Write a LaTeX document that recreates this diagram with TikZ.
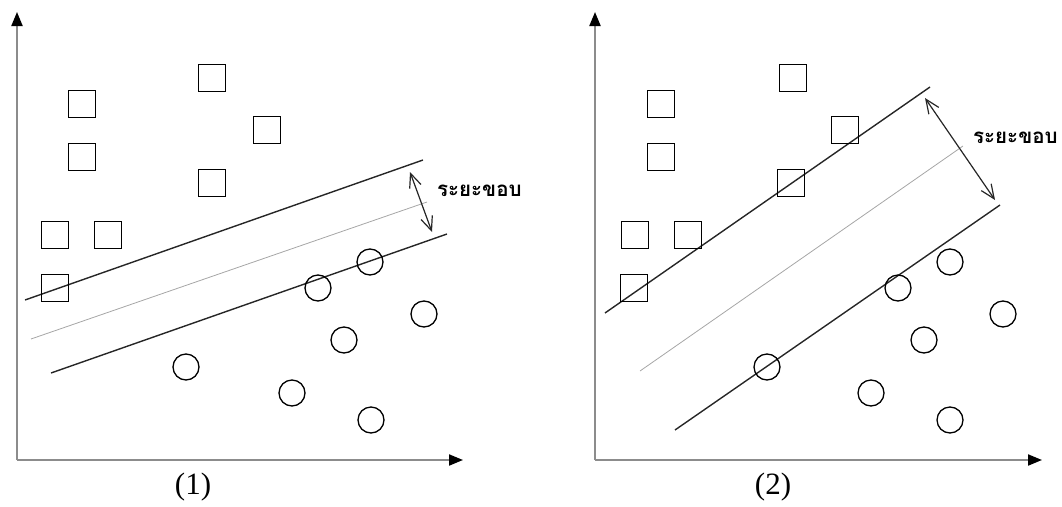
\documentclass[tikz,border=0pt]{standalone}
\usepackage{fontspec}
\setmainfont{Liberation Serif}
\newfontfamily\thaifont[Script=Thai]{Loma}
\usetikzlibrary{arrows.meta}
\begin{document}
\begin{tikzpicture}[x=1pt,y=-1pt,
  axis/.style={draw=black!45,line width=2pt,-{Triangle[length=14pt,width=11pt,color=black]}},
  sq/.style={draw=black,line width=1.5pt,minimum size=27pt,inner sep=0pt},
  circ/.style={draw=black,line width=1.3pt,circle,minimum size=26pt,inner sep=0pt},
  bound/.style={draw=black!85,line width=1.4pt},
  mid/.style={draw=black!35,line width=0.8pt},
  margin/.style={draw=black!85,line width=1.2pt,{Straight Barb[length=14pt,width=12pt]}-{Straight Barb[length=14pt,width=12pt]}},
  lbl/.style={font=\thaifont\bfseries\fontsize{20.5}{22}\selectfont,anchor=west,inner sep=0pt},
  pnum/.style={font=\fontsize{31}{34}\selectfont,inner sep=0pt}]
\useasboundingbox (0,0) rectangle (1062,506);

% ---------- panel (1) ----------
\coordinate (o1) at (17,460);
\coordinate (y1) at (17,12);
\coordinate (x1) at (463,460);
\draw[axis] (o1) -- (y1);
\draw[axis] (o1) -- (x1);

\coordinate (a1s) at (25,300);  \coordinate (a1e) at (423,160);
\coordinate (m1s) at (31,339);  \coordinate (m1e) at (427,202);
\coordinate (b1s) at (51,373);  \coordinate (b1e) at (447,234);
\draw[mid] (m1s) -- (m1e);
\draw[bound] (a1s) -- (a1e);
\draw[bound] (b1s) -- (b1e);

\foreach \n/\p in {s1/{82,104}, s2/{82,157}, s3/{212,78}, s4/{267,130},
                   s5/{212,183}, s6/{55,235}, s7/{108,235}, s8/{55,288}}
  \node[sq] (p1\n) at (\p) {};
\foreach \n/\p in {c1/{370,262}, c2/{318,288}, c3/{424,314}, c4/{344,340},
                   c5/{186,367}, c6/{292,393}, c7/{371,420}}
  \node[circ] (p1\n) at (\p) {};

\coordinate (g1a) at (410,172);
\coordinate (g1b) at (432,232);
\draw[margin] (g1a) -- (g1b);
\node[lbl] (t1) at (437,191) {ระยะขอบ};
\node[pnum] (n1) at (193,487) {(1)};

% ---------- panel (2) ----------
\coordinate (o2) at (595,460);
\coordinate (y2) at (595,12);
\coordinate (x2) at (1042,460);
\draw[axis] (o2) -- (y2);
\draw[axis] (o2) -- (x2);

\coordinate (a2s) at (605,313);  \coordinate (a2e) at (930,87);
\coordinate (m2s) at (640,371);  \coordinate (m2e) at (963,146);
\coordinate (b2s) at (675,430);  \coordinate (b2e) at (1000,205);
\draw[mid] (m2s) -- (m2e);
\draw[bound] (a2s) -- (a2e);
\draw[bound] (b2s) -- (b2e);

\foreach \n/\p in {s1/{661,104}, s2/{661,157}, s3/{793,78}, s4/{845,130},
                   s5/{791,183}, s6/{635,235}, s7/{688,235}, s8/{634,288}}
  \node[sq] (p2\n) at (\p) {};
\foreach \n/\p in {c1/{950,262}, c2/{898,288}, c3/{1003,314}, c4/{924,340},
                   c5/{767,367}, c6/{871,393}, c7/{950,420}}
  \node[circ] (p2\n) at (\p) {};

\coordinate (g2a) at (925,98);
\coordinate (g2b) at (995,200);
\draw[margin] (g2a) -- (g2b);
\node[lbl] (t2) at (973,138) {ระยะขอบ};
\node[pnum] (n2) at (773,487) {(2)};
\end{tikzpicture}
\end{document}
